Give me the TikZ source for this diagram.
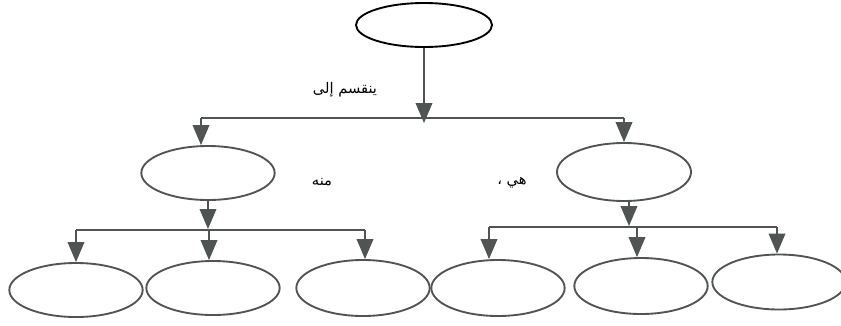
\documentclass[tikz,border=0pt]{standalone}
\usepackage{fontspec}
\newfontfamily\arabicfont[Script=Arabic]{DejaVu Sans}
\TeXXeTstate=1
\usepackage{tikz}
\usetikzlibrary{calc,shapes,positioning}
\usetikzlibrary{arrows.meta}
\definecolor{linegray}{RGB}{80,84,82}
\tikzset{>={Triangle[width=5.0mm,length=6.0mm]}}

\begin{document}
\begin{tikzpicture}[x=0.03cm,y=-0.03cm]
        \tikzstyle{topnode} = [thick, draw=black, line width=1.6pt, ellipse, minimum width=4.08cm, minimum height=1.32cm, inner sep=0pt]
        \tikzstyle{enode} = [draw=linegray, line width=1.6pt, ellipse, minimum width=4.0cm, minimum height=1.62cm, inner sep=0pt]
        \tikzstyle{conn} = [draw=linegray, line width=1.3pt]
        \tikzstyle{lbl} = [inner sep=0pt, font=\arabicfont\fontsize{12.5}{14}\selectfont]

        \useasboundingbox (0,0) rectangle (841,325);

        % root
        \node[topnode] (top) at (424,25) {};

        % first level
        \coordinate (barA1) at (201,118);
        \coordinate (barA2) at (624,118);
        \coordinate (tipA) at (424,123);
        \node[enode] (midL) at (208,173) {};
        \node[enode, minimum width=4.02cm, minimum height=1.74cm] (midR) at (624,172) {};

        \draw[conn,->] (top.south) -- (tipA);
        \draw[conn] (barA1) -- (barA2);
        \draw[conn,->] (barA1) -- (barA1 |- midL.north);
        \draw[conn,->] (barA2) -- (midR.north);

        % second level, left
        \coordinate (barB1) at (76,230);
        \coordinate (barB2) at (365,230);
        \coordinate (tipB) at (208,229);
        \node[enode] (b1) at (76,290) {};
        \node[enode] (b2) at (213,288) {};
        \node[enode, minimum height=1.68cm] (b3) at (363,288) {};

        \draw[conn,->] (midL.south) -- (tipB);
        \draw[conn] (barB1) -- (barB2);
        \draw[conn,->] (barB1) -- (b1.north);
        \draw[conn,->] (209,230) -- (209,0 |- b2.north);
        \draw[conn,->] (barB2) -- (barB2 |- b3.north);

        % second level, right
        \coordinate (barC1) at (489,227);
        \coordinate (barC2) at (777,227);
        \coordinate (barC3) at (637,227);
        \coordinate (tipC) at (629,226);
        \node[enode, minimum height=1.68cm] (b4) at (498,288) {};
        \node[enode, minimum height=1.68cm] (b5) at (641,286) {};
        \node[enode, minimum height=1.65cm] (b6) at (779,282) {};

        \draw[conn,->] (tipC |- midR.south) -- (tipC);
        \draw[conn] (barC1) -- (barC2);
        \draw[conn,->] (barC1) -- (barC1 |- b4.north);
        \draw[conn,->] (barC3) -- (barC3 |- b5.north);
        \draw[conn,->] (barC2) -- (barC2 |- b6.north);

        % labels
        \node[lbl] (divides) at (345,90) {\beginR ينقسم إلى\endR};
        \node[lbl] (fromit) at (322,182) {\beginR منه\endR};
        \node[lbl] (theyare) at (512,183) {\beginR هي ،\endR};
\end{tikzpicture}
\end{document}
